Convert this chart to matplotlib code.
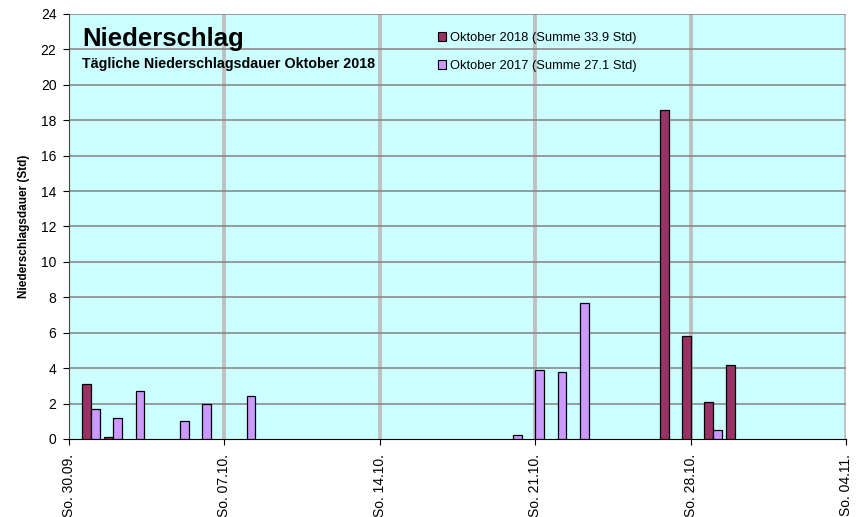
import datetime as dt

import matplotlib
matplotlib.use("Agg")
import matplotlib.pyplot as plt
import matplotlib.dates as mdates
from matplotlib.patches import Patch

plt.rcParams["font.family"] = ["Liberation Sans", "DejaVu Sans"]

# ── Data (hours of precipitation per day, October) ─────────────────────────
days = list(range(1, 32))
oct_2018 = [3.1, 0.1, 0, 0, 0, 0, 0, 0, 0, 0,
            0, 0, 0, 0, 0, 0, 0, 0, 0, 0,
            0, 0, 0, 0, 0, 0, 18.6, 5.8, 2.1, 4.2, 0]
oct_2017 = [1.7, 1.2, 2.7, 0, 1.0, 2.0, 0, 2.4, 0, 0,
            0, 0, 0, 0, 0, 0, 0, 0, 0, 0.2,
            3.9, 3.8, 7.7, 0, 0, 0, 0, 0, 0.5, 0, 0]
label_2018 = "Oktober 2018 (Summe 33.9 Std)"
label_2017 = "Oktober 2017 (Summe 27.1 Std)"
title = "Niederschlag"
subtitle = "Tägliche Niederschlagsdauer Oktober 2018"
ylabel = "Niederschlagsdauer (Std)"

col_2018 = "#993366"
col_2017 = "#cc99ff"

x = mdates.date2num([dt.date(2018, 10, d) for d in days])
width = 0.4

fig = plt.figure(figsize=(8.61, 5.17), dpi=100)
ax = fig.add_axes([0.080, 0.151, 0.903, 0.822])
ax.set_facecolor("#ccffff")

for xi, v in zip(x, oct_2018):
    if v > 0:
        ax.bar(xi - width / 2, v, width, color=col_2018, edgecolor="black",
               linewidth=0.9, zorder=3)
for xi, v in zip(x, oct_2017):
    if v > 0:
        ax.bar(xi + width / 2, v, width, color=col_2017, edgecolor="black",
               linewidth=0.9, zorder=3)

start = mdates.date2num(dt.date(2018, 9, 30))
end = mdates.date2num(dt.date(2018, 11, 4))
ax.set_xlim(start, end)
ax.set_ylim(0, 24)
ax.set_yticks(range(0, 25, 2))
ax.set_xticks([start + 7 * k for k in range(6)])
ax.xaxis.set_major_formatter(mdates.DateFormatter("So. %d.%m."))
plt.setp(ax.get_xticklabels(), rotation=90)

# grid: vertical light grey & thick, horizontal dark grey
for k in range(1, 6):
    ax.axvline(start + 7 * k, color="#c0c0c0", lw=2.8, zorder=1)
for yv in range(2, 25, 2):
    ax.axhline(yv, color="#8a8a8a", lw=1.2, zorder=2)

for s in ("top", "right"):
    ax.spines[s].set_visible(False)
ax.spines["left"].set_color("#444444")
ax.spines["bottom"].set_color("black")
ax.tick_params(axis="both", labelsize=10, direction="out", length=4)
ax.tick_params(axis="y", pad=5)
ax.tick_params(axis="x", pad=7)

ax.set_ylabel(ylabel, fontsize=8.5, fontweight="bold", labelpad=8)

ax.text(0.017, 0.94, title, transform=ax.transAxes, fontsize=18.5,
        fontweight="bold", va="center", ha="left")
ax.text(0.017, 0.882, subtitle, transform=ax.transAxes, fontsize=10.3,
        fontweight="bold", va="center", ha="left")

handles = [Patch(facecolor=col_2018, edgecolor="black", lw=0.8),
           Patch(facecolor=col_2017, edgecolor="black", lw=0.8)]
ax.legend(handles, [label_2018, label_2017], loc="upper left",
          bbox_to_anchor=(0.46, 0.985), frameon=False, fontsize=9.3,
          handlelength=0.6, handleheight=0.6, handletextpad=0.3,
          labelspacing=1.25)

fig.savefig("out.png", dpi=100)
